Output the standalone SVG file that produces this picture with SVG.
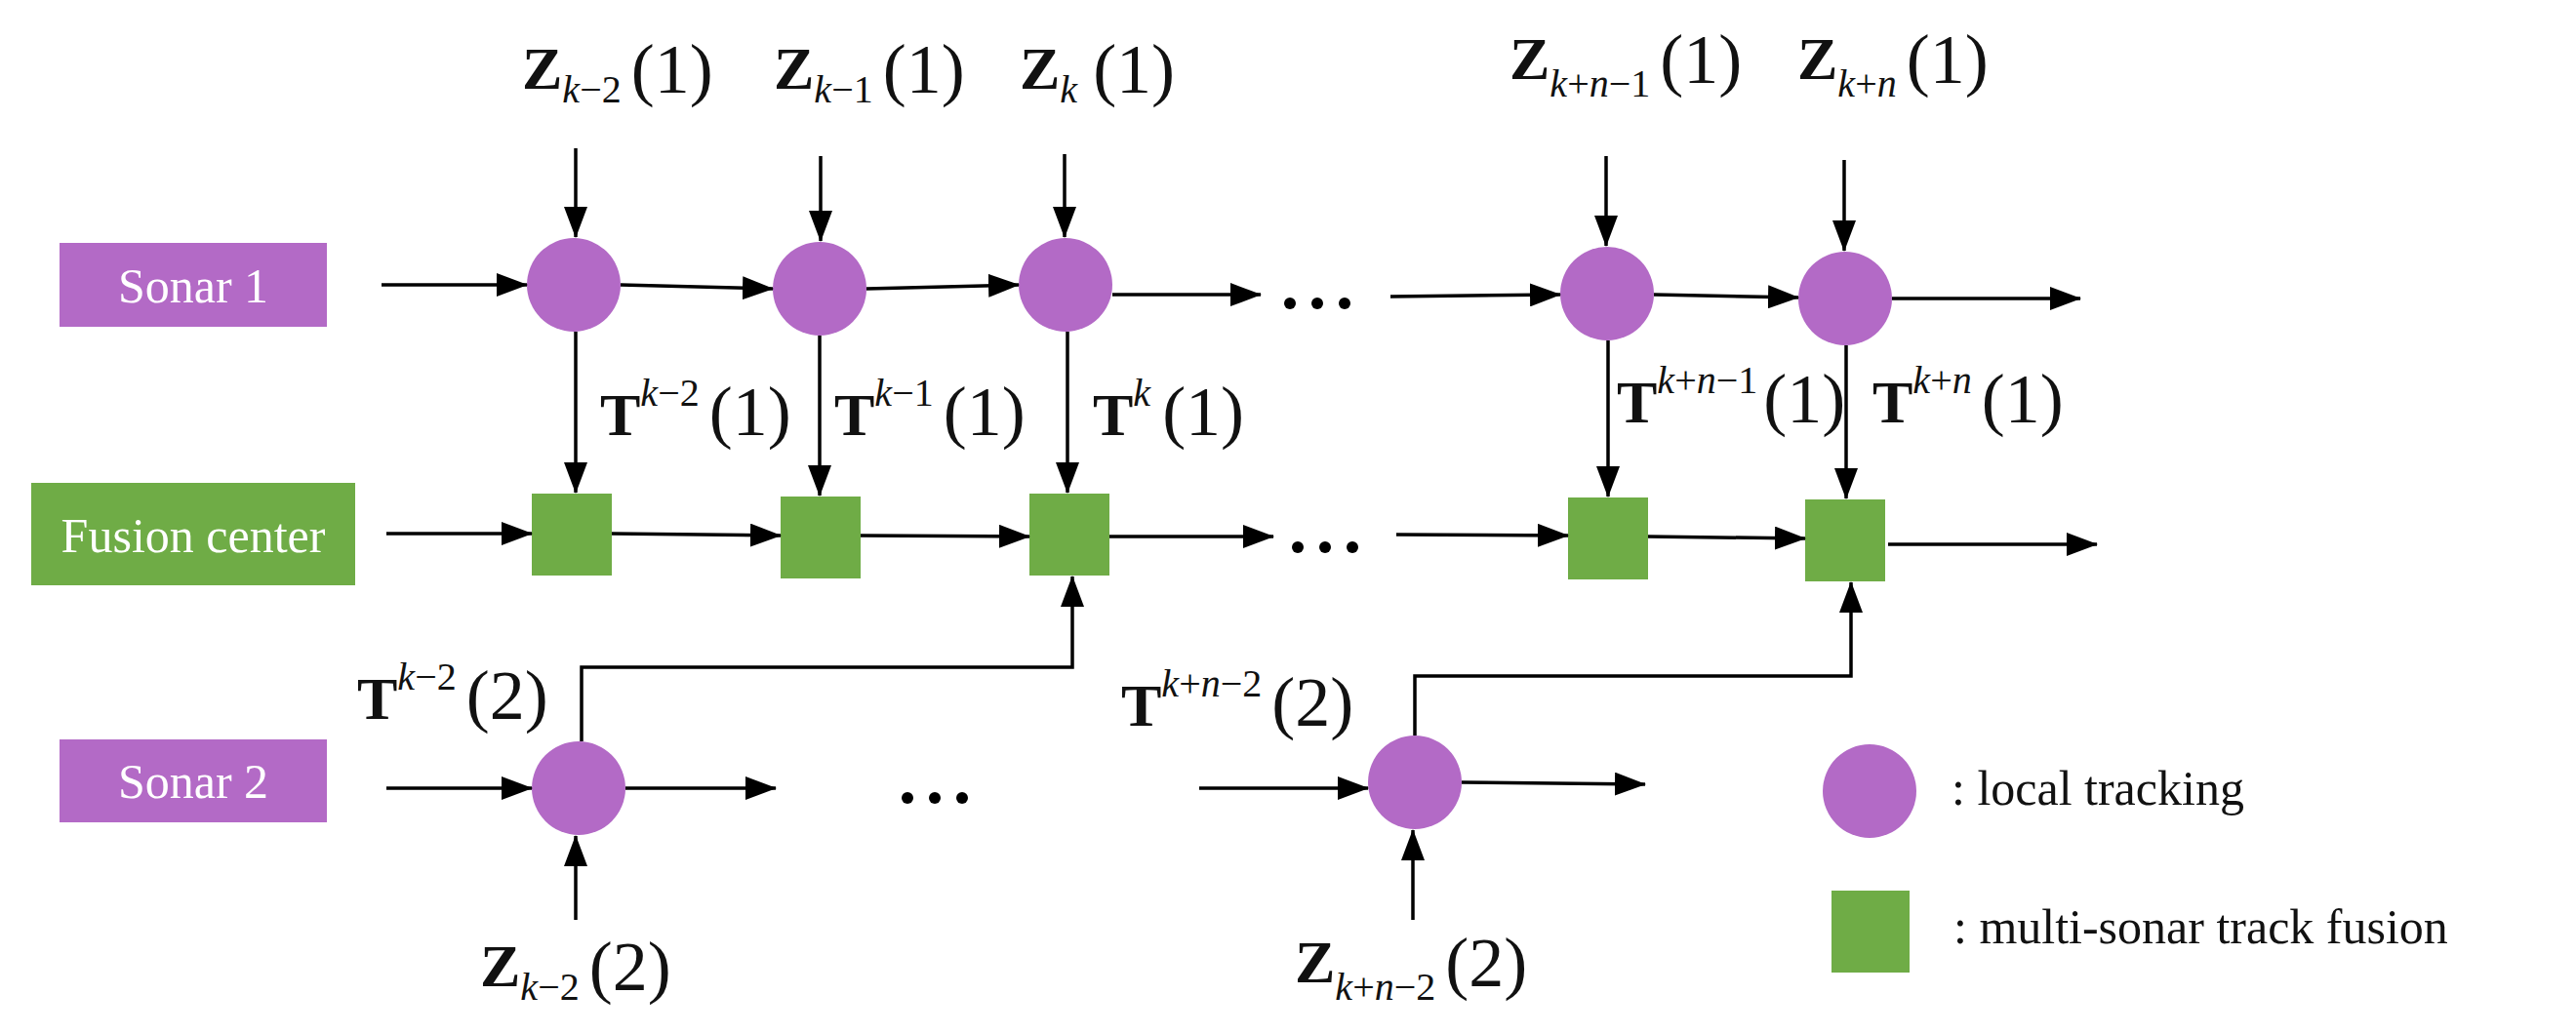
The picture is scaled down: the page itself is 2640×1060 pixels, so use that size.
<svg xmlns="http://www.w3.org/2000/svg" width="2640" height="1060" viewBox="0 0 2640 1060">
<style>
.box{font-family:"Liberation Serif",serif;font-size:50px;fill:#fff;text-anchor:middle}
.m{font-family:"Liberation Serif",serif;font-size:62px;fill:#111}
.b{font-weight:bold}
.s{font-style:italic;font-size:40px}
.n{font-size:40px}
.p{font-size:72px}
.lg{font-family:"Liberation Serif",serif;font-size:50px;fill:#111}
.c{fill:#b36ac6}
.q{fill:#6fac46}
line,path{stroke:#000;stroke-width:3.5;fill:none}
</style>
<defs><marker id="a" markerWidth="32" markerHeight="24" refX="31" refY="12" orient="auto" markerUnits="userSpaceOnUse" viewBox="0 0 32 24"><path d="M0,0L32,12L0,24z" style="fill:#000;stroke:none"/></marker></defs>
<g id="sonar1"><rect x="61" y="249" width="274" height="86" class="c"/><text x="198" y="310" class="box">Sonar 1</text></g>
<g id="fusion"><rect x="32" y="495" width="332" height="105" class="q"/><text x="198" y="566" class="box">Fusion center</text></g>
<g id="sonar2"><rect x="61" y="758" width="274" height="85" class="c"/><text x="198" y="818" class="box">Sonar 2</text></g>
<g id="nodes">
<circle id="c1" cx="588" cy="292" r="48" class="c"/><circle id="c2" cx="840" cy="296" r="48" class="c"/><circle id="c3" cx="1092" cy="292" r="48" class="c"/><circle id="c4" cx="1647" cy="301" r="48" class="c"/><circle id="c5" cx="1891" cy="306" r="48" class="c"/>
<rect id="s1" x="545" y="506" width="82" height="84" class="q"/><rect id="s2" x="800" y="509" width="82" height="84" class="q"/><rect id="s3" x="1055" y="506" width="82" height="84" class="q"/><rect id="s4" x="1607" y="510" width="82" height="84" class="q"/><rect id="s5" x="1850" y="512" width="82" height="84" class="q"/>
<circle id="d1" cx="593" cy="808" r="48" class="c"/><circle id="d2" cx="1450" cy="802" r="48" class="c"/>
</g>
<g id="connectors" marker-end="url(#a)">
<line x1="391" y1="292" x2="540" y2="292"/><line x1="636" y1="292" x2="792" y2="296"/><line x1="888" y1="296" x2="1044" y2="292"/><line x1="1140" y1="302" x2="1292" y2="302"/>
<line x1="1425" y1="304" x2="1599" y2="302"/><line x1="1695" y1="302" x2="1843" y2="305"/><line x1="1939" y1="306" x2="2132" y2="306"/>
<line x1="396" y1="547" x2="545" y2="547"/><line x1="627" y1="547" x2="800" y2="549"/><line x1="882" y1="549" x2="1055" y2="550"/><line x1="1137" y1="550" x2="1305" y2="550"/>
<line x1="1431" y1="548" x2="1607" y2="549"/><line x1="1689" y1="550" x2="1850" y2="552"/><line x1="1935" y1="558" x2="2149" y2="558"/>
<line x1="396" y1="808" x2="545" y2="808"/><line x1="641" y1="808" x2="795" y2="808"/><line x1="1229" y1="808" x2="1402" y2="808"/><line x1="1498" y1="802" x2="1686" y2="804"/>
<line x1="590" y1="152" x2="590" y2="243"/><line x1="841" y1="160" x2="841" y2="247"/><line x1="1091" y1="158" x2="1091" y2="243"/><line x1="1646" y1="160" x2="1646" y2="252"/><line x1="1890" y1="164" x2="1890" y2="257"/>
<line x1="590" y1="340" x2="590" y2="505"/><line x1="840" y1="344" x2="840" y2="508"/><line x1="1094" y1="340" x2="1094" y2="505"/><line x1="1648" y1="349" x2="1648" y2="509"/><line x1="1892" y1="354" x2="1892" y2="511"/>
<line x1="590" y1="943" x2="590" y2="857"/><line x1="1448" y1="943" x2="1448" y2="851"/>
<path d="M596,760V684H1099V591"/><path d="M1450,754V693H1897V597"/>
</g>
<g id="dots" style="fill:#000"><circle cx="1322" cy="311" r="6"/><circle cx="1350" cy="311" r="6"/><circle cx="1378" cy="311" r="6"/><circle cx="1330" cy="561" r="6"/><circle cx="1358" cy="561" r="6"/><circle cx="1386" cy="561" r="6"/><circle cx="930" cy="818" r="6"/><circle cx="958" cy="818" r="6"/><circle cx="986" cy="818" r="6"/></g>
<g id="labels" class="m">
<text x="535" y="91"><tspan class="b">Z</tspan><tspan class="s" dy="14">k</tspan><tspan class="n">−2</tspan><tspan class="p" dx="10" dy="-10">(1)</tspan></text>
<text x="793" y="91"><tspan class="b">Z</tspan><tspan class="s" dy="14">k</tspan><tspan class="n">−1</tspan><tspan class="p" dx="10" dy="-10">(1)</tspan></text>
<text x="1045" y="91"><tspan class="b">Z</tspan><tspan class="s" dy="14">k</tspan><tspan class="p" dx="16" dy="-10">(1)</tspan></text>
<text x="1547" y="81"><tspan class="b">Z</tspan><tspan class="s" dy="18">k</tspan><tspan class="n">+</tspan><tspan class="s">n</tspan><tspan class="n">−1</tspan><tspan class="p" dx="10" dy="-14">(1)</tspan></text>
<text x="1842" y="81"><tspan class="b">Z</tspan><tspan class="s" dy="18">k</tspan><tspan class="n">+</tspan><tspan class="s">n</tspan><tspan class="p" dx="10" dy="-14">(1)</tspan></text>
<text x="615" y="446"><tspan class="b">T</tspan><tspan class="s" dy="-30">k</tspan><tspan class="n">−2</tspan><tspan class="p" dx="10" dy="30">(1)</tspan></text>
<text x="855" y="446"><tspan class="b">T</tspan><tspan class="s" dy="-30">k</tspan><tspan class="n">−1</tspan><tspan class="p" dx="10" dy="30">(1)</tspan></text>
<text x="1120" y="446"><tspan class="b">T</tspan><tspan class="s" dy="-30">k</tspan><tspan class="p" dx="12" dy="30">(1)</tspan></text>
<text x="1657" y="433"><tspan class="b">T</tspan><tspan class="s" dy="-30">k</tspan><tspan class="n">+</tspan><tspan class="s">n</tspan><tspan class="n">−1</tspan><tspan class="p" dx="6" dy="30">(1)</tspan></text>
<text x="1919" y="433"><tspan class="b">T</tspan><tspan class="s" dy="-30">k</tspan><tspan class="n">+</tspan><tspan class="s">n</tspan><tspan class="p" dx="10" dy="30">(1)</tspan></text>
<text x="366" y="737"><tspan class="b">T</tspan><tspan class="s" dy="-30">k</tspan><tspan class="n">−2</tspan><tspan class="p" dx="10" dy="30">(2)</tspan></text>
<text x="1149" y="744"><tspan class="b">T</tspan><tspan class="s" dy="-30">k</tspan><tspan class="n">+</tspan><tspan class="s">n</tspan><tspan class="n">−2</tspan><tspan class="p" dx="10" dy="30">(2)</tspan></text>
<text x="492" y="1011"><tspan class="b">Z</tspan><tspan class="s" dy="14">k</tspan><tspan class="n">−2</tspan><tspan class="p" dx="10" dy="-10">(2)</tspan></text>
<text x="1327" y="1007"><tspan class="b">Z</tspan><tspan class="s" dy="18">k</tspan><tspan class="n">+</tspan><tspan class="s">n</tspan><tspan class="n">−2</tspan><tspan class="p" dx="10" dy="-14">(2)</tspan></text>
</g>
<g id="legend"><circle cx="1916" cy="811" r="48" class="c"/><text x="2000" y="825" class="lg">: local tracking</text><rect x="1877" y="913" width="80" height="84" class="q"/><text x="2002" y="967" class="lg">: multi-sonar track fusion</text></g>
</svg>
